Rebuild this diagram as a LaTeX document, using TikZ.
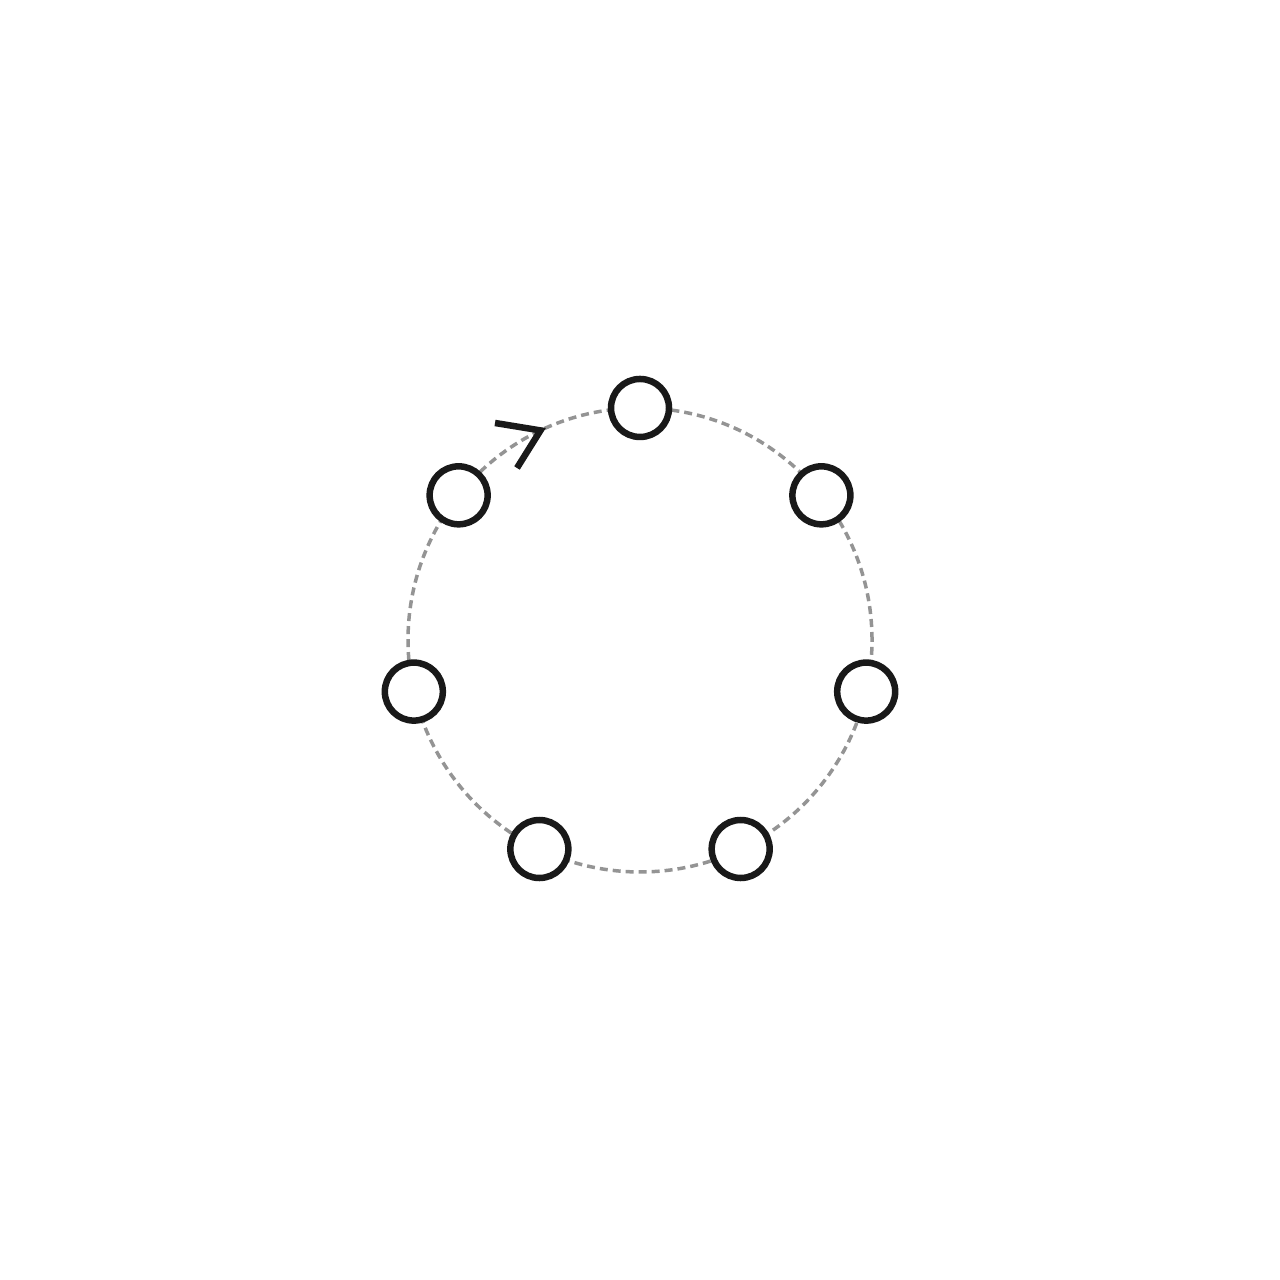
\documentclass[tikz,border=0pt]{standalone}
\usetikzlibrary{calc}
\begin{document}
\begin{tikzpicture}
\tikzset{
  ringnode/.style={circle, draw=black!90, fill=white, line width=0.065cm, minimum size=0.58cm, inner sep=0pt},
  guide/.style={draw=black!42, line width=0.035cm, dash pattern=on 0.08cm off 0.05cm},
  chevron/.style={draw=black!90, line width=0.065cm, line join=miter}
}
\useasboundingbox (0,0) rectangle (12.8,12.8);
\coordinate (c) at (6.4,6.4);
\draw[guide] (c) circle (2.32);
\foreach \k in {0,...,6} {
  \node[ringnode] (n\k) at ($(c)+({90-\k*360/7}:2.32)$) {};
}
\coordinate (tip) at ($(c)+(115.4:2.32)$);
\coordinate (armA) at (4.95,8.57);
\coordinate (armB) at (5.17,8.12);
\draw[chevron] (armA) -- (tip) -- (armB);
\end{tikzpicture}
\end{document}
